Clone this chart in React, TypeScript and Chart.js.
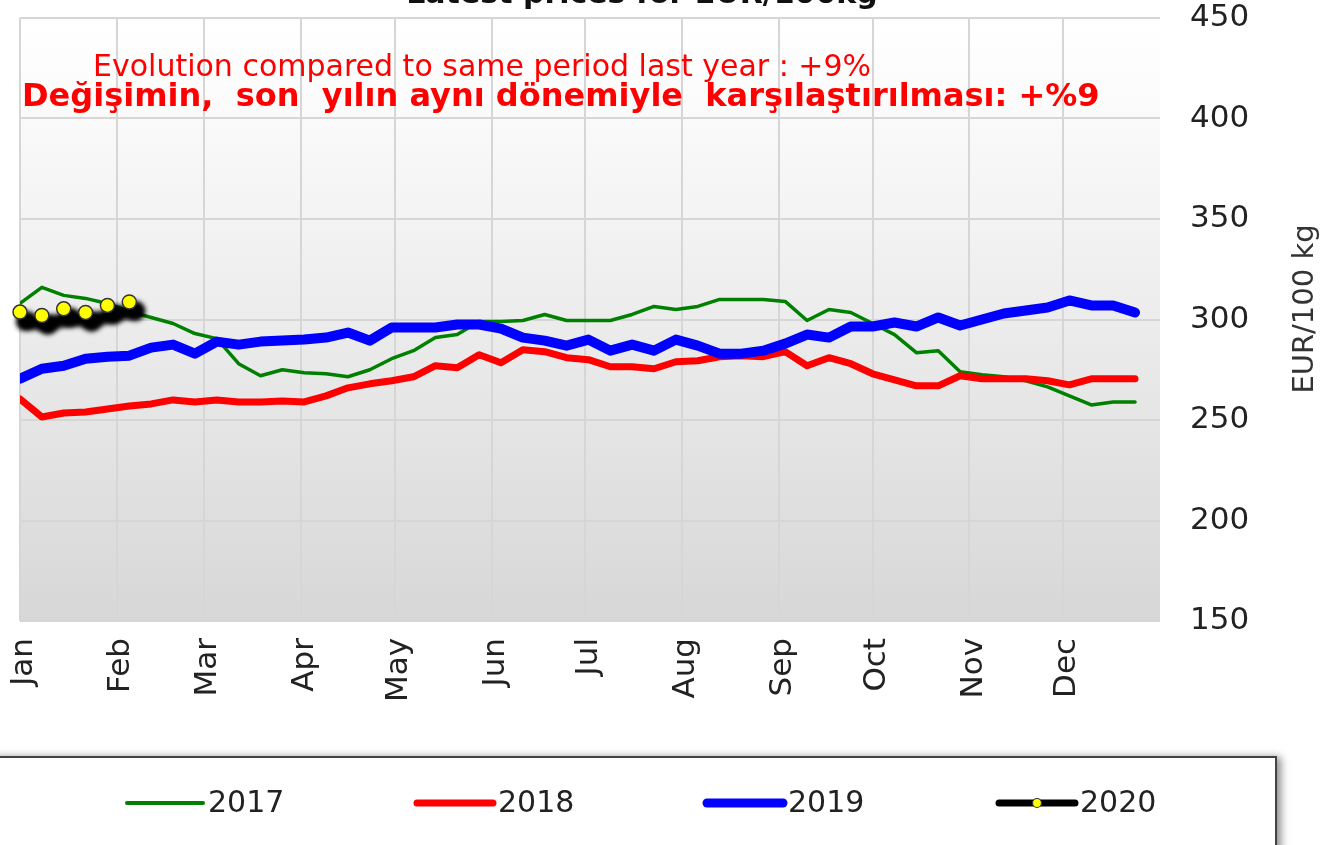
import { useEffect, useRef } from 'react';
import { Chart, registerables } from 'chart.js';

Chart.register(...registerables);

const FONT = '"DejaVu Sans", Verdana, sans-serif';

const months = ['Jan', 'Feb', 'Mar', 'Apr', 'May', 'Jun', 'Jul', 'Aug', 'Sep', 'Oct', 'Nov', 'Dec'];
const monthStartDays = [0, 31, 59, 90, 120, 151, 181, 212, 243, 273, 304, 334];
const weekDays = [0, 7, 14, 21, 28, 35, 42, 49, 56, 63, 70, 77, 84, 91, 98, 105, 112, 119, 126, 133, 140, 147, 154, 161, 168, 175, 182, 189, 196, 203, 210, 217, 224, 231, 238, 245, 252, 259, 266, 273, 280, 287, 294, 301, 308, 315, 322, 329, 336, 343, 350, 357];
const yTicks = [150, 200, 250, 300, 350, 400, 450];

const s2017 = [308, 316, 312, 310.5, 308, 304, 301, 298, 293, 290.5, 278, 272, 275, 273.5, 273, 271.5, 275, 280.5, 284.5, 291, 292.5, 299, 299, 299.5, 302.5, 299.5, 299.5, 299.5, 302.5, 306.5, 305, 306.5, 310, 310, 310, 309, 299.5, 305, 303.5, 298, 292.5, 283.5, 284.5, 274, 272.5, 271.5, 269.5, 266.5, 262, 257.5, 259, 259];
const s2018 = [260.5, 251.5, 253.5, 254, 255.5, 257, 258, 260, 259, 260, 259, 259, 259.5, 259, 262, 266, 268, 269.5, 271.5, 277, 276, 282.5, 278.5, 285, 284, 281, 280, 276.5, 276.5, 275.5, 279, 279.5, 281.5, 282, 281.5, 284, 277, 281, 278, 273, 270, 267, 267, 272, 270.5, 270.5, 270.5, 269.5, 267.5, 270.5, 270.5, 270.5];
const s2019 = [270.5, 275.5, 277, 280.5, 281.5, 282, 286, 287.5, 283, 289, 287.5, 289, 289.5, 290, 291, 293.5, 289.5, 296, 296, 296, 297.5, 297.5, 295.5, 291, 289.5, 287, 290, 284.5, 287.5, 284.5, 290, 287, 283, 283, 284.5, 288, 292.5, 291, 296.5, 296.5, 298.5, 296.5, 301, 297, 300, 303, 304.5, 306, 309.5, 307, 307, 303.5];
const s2020 = [303.7, 302, 305.3, 303.5, 307, 308.7];

const seriesLabels = ['2017', '2018', '2019', '2020'];

const toPoints = (vals: number[]) => vals.map((v, i) => ({ x: weekDays[i], y: v }));

const customPlugin = {
  id: 'customDecor',
  beforeDraw(chart: any) {
    const { ctx, chartArea: a } = chart;
    ctx.save();
    const g = ctx.createLinearGradient(0, a.top, 0, a.bottom);
    g.addColorStop(0, '#ffffff');
    g.addColorStop(0.12, '#fcfcfc');
    g.addColorStop(1, '#d7d7d7');
    ctx.fillStyle = g;
    ctx.fillRect(a.left, a.top, a.right - a.left, a.bottom - a.top);
    ctx.restore();
  },
  beforeDatasetDraw(chart: any, args: any) {
    if (args.index === 3) {
      const ctx = chart.ctx;
      ctx.save();
      ctx.translate(6, 9);
      ctx.filter = 'blur(2.5px)';
    }
  },
  afterDatasetDraw(chart: any, args: any) {
    if (args.index === 3) {
      const ctx = chart.ctx;
      ctx.restore();
      ctx.save();
      args.meta.data.forEach((pt: any) => {
        ctx.beginPath();
        ctx.arc(pt.x, pt.y, 7, 0, Math.PI * 2);
        ctx.fillStyle = '#ffff00';
        ctx.fill();
        ctx.lineWidth = 1.5;
        ctx.strokeStyle = '#333';
        ctx.stroke();
      });
      ctx.restore();
    }
  },
  afterDraw(chart: any) {
    const ctx = chart.ctx;
    ctx.save();
    // title (mostly cut off at the top)
    ctx.font = `bold 30px ${FONT}`;
    ctx.fillStyle = '#111';
    ctx.textAlign = 'center';
    ctx.textBaseline = 'alphabetic';
    ctx.fillText('Latest prices for EUR/100kg', 642, 3);

    // annotations
    ctx.textAlign = 'left';
    ctx.textBaseline = 'middle';
    ctx.fillStyle = '#ff0000';
    ctx.font = `30px ${FONT}`;
    ctx.fillText('Evolution compared to same period last year : +9%', 93, 68);
    ctx.font = `bold 32px ${FONT}`;
    ctx.fillText('Değişimin,  son  yılın aynı dönemiyle  karşılaştırılması: +%9', 22, 98);

    // y axis title
    ctx.save();
    ctx.translate(1305, 309);
    ctx.rotate(-Math.PI / 2);
    ctx.textAlign = 'center';
    ctx.fillStyle = '#333';
    ctx.font = `29px ${FONT}`;
    ctx.fillText('EUR/100 kg', 0, 0);
    ctx.restore();

    // legend box
    ctx.save();
    ctx.shadowColor = 'rgba(0,0,0,0.45)';
    ctx.shadowBlur = 8;
    ctx.shadowOffsetX = 5;
    ctx.shadowOffsetY = 0;
    ctx.fillStyle = '#ffffff';
    ctx.fillRect(-10, 757, 1286, 110);
    ctx.restore();
    ctx.strokeStyle = '#444';
    ctx.lineWidth = 2;
    ctx.strokeRect(-10, 757, 1286, 110);

    const items = [
      { x: 127, color: '#008000', w: 4 },
      { x: 417, color: '#ff0000', w: 7 },
      { x: 707, color: '#0000ff', w: 9 },
      { x: 999, color: '#000000', w: 7 },
    ];
    const ly = 803;
    items.forEach((it, i) => {
      ctx.beginPath();
      ctx.lineCap = 'round';
      ctx.strokeStyle = it.color;
      ctx.lineWidth = it.w;
      ctx.moveTo(it.x, ly);
      ctx.lineTo(it.x + 76, ly);
      ctx.stroke();
      if (i === 3) {
        ctx.beginPath();
        ctx.arc(it.x + 38, ly, 4.5, 0, Math.PI * 2);
        ctx.fillStyle = '#ffff00';
        ctx.fill();
        ctx.lineWidth = 1.2;
        ctx.strokeStyle = '#333';
        ctx.stroke();
      }
      ctx.fillStyle = '#222';
      ctx.font = `30px ${FONT}`;
      ctx.textAlign = 'left';
      ctx.textBaseline = 'middle';
      ctx.fillText(seriesLabels[i], it.x + 81, ly + 1);
    });
    ctx.restore();
  },
};

const zeroPad = (scale: any) => {
  scale.paddingTop = 0;
  scale.paddingBottom = 0;
  scale.paddingLeft = 0;
  scale.paddingRight = 0;
};

export default function App() {
  const ref = useRef<HTMLCanvasElement | null>(null);
  useEffect(() => {
    if (!ref.current) return;
    const chart = new Chart(ref.current, {
      type: 'line',
      data: {
        datasets: [
          { label: seriesLabels[0], data: toPoints(s2017), borderColor: '#008000', borderWidth: 3.5, pointRadius: 0, order: 4, borderJoinStyle: 'round', borderCapStyle: 'round' },
          { label: seriesLabels[1], data: toPoints(s2018), borderColor: '#ff0000', borderWidth: 7, pointRadius: 0, order: 3, borderJoinStyle: 'round', borderCapStyle: 'round' },
          { label: seriesLabels[2], data: toPoints(s2019), borderColor: '#0000ff', borderWidth: 10, pointRadius: 0, order: 2, borderJoinStyle: 'round', borderCapStyle: 'round' },
          { label: seriesLabels[3], data: toPoints(s2020), borderColor: '#000000', borderWidth: 14, pointRadius: 10, pointBackgroundColor: '#000000', pointBorderWidth: 0, order: 1, clip: false, borderJoinStyle: 'round', borderCapStyle: 'round' } as any,
        ],
      },
      options: {
        animation: false,
        responsive: false,
        layout: { padding: { left: 20, top: 18, right: 0, bottom: 0 } },
        plugins: { legend: { display: false }, tooltip: { enabled: false }, title: { display: false } },
        elements: { line: { tension: 0 } },
        scales: {
          x: {
            type: 'linear',
            min: 0,
            max: 365,
            position: 'bottom',
            afterBuildTicks: (scale: any) => {
              scale.ticks = monthStartDays.map((v) => ({ value: v }));
            },
            afterFit: (scale: any) => {
              scale.height = 224;
              zeroPad(scale);
            },
            ticks: {
              autoSkip: false,
              maxRotation: 90,
              minRotation: 90,
              padding: 17,
              labelOffset: 4,
              color: '#222',
              font: { family: FONT, size: 31 },
              callback: (v: any) => months[monthStartDays.indexOf(Number(v))] ?? '',
            },
            grid: { color: '#d6d6d6', lineWidth: 2, drawTicks: false },
            border: { display: false },
          },
          y: {
            position: 'right',
            min: 150,
            max: 450,
            afterBuildTicks: (scale: any) => {
              scale.ticks = yTicks.map((v) => ({ value: v }));
            },
            afterFit: (scale: any) => {
              scale.width = 168;
              zeroPad(scale);
            },
            ticks: {
              padding: 30,
              color: '#222',
              font: { family: FONT, size: 31 },
            },
            grid: { color: '#d6d6d6', lineWidth: 2, drawTicks: false },
            border: { display: false },
          },
        },
      } as any,
      plugins: [customPlugin],
    });
    return () => chart.destroy();
  }, []);
  return (
    <div style={{ position: 'fixed', left: 0, top: 0, width: 1328, height: 845, background: '#fff' }}>
      <canvas ref={ref} width={1328} height={845} style={{ display: 'block' }} />
    </div>
  );
}
